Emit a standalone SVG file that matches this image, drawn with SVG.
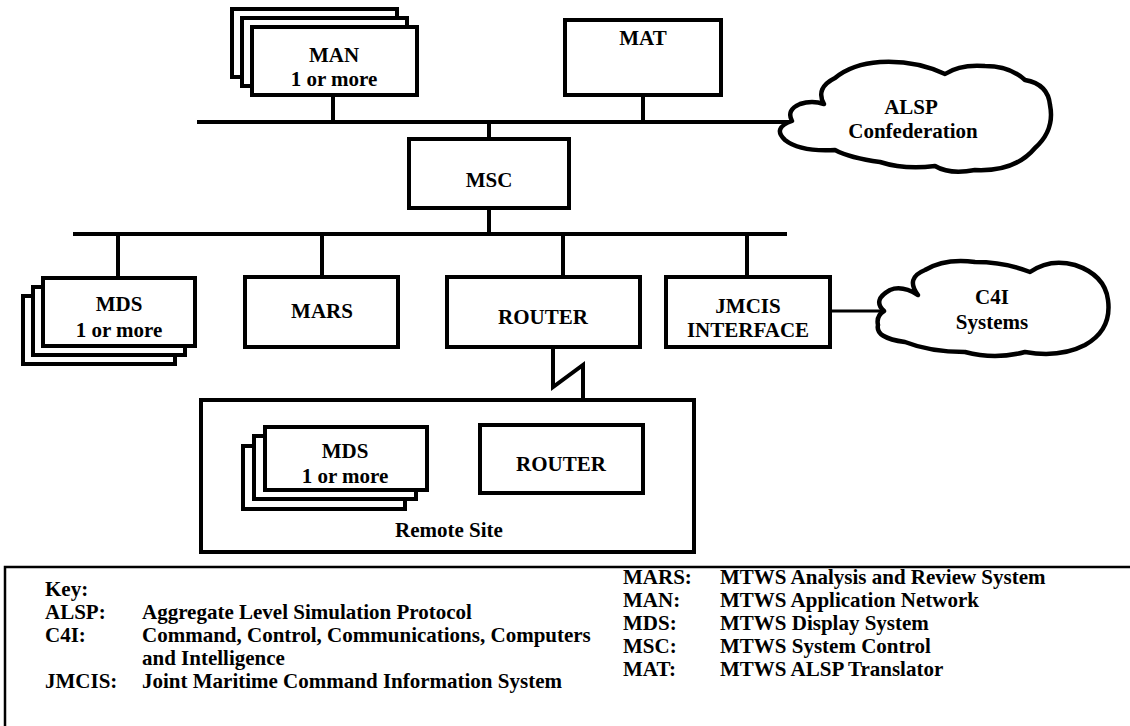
<svg xmlns="http://www.w3.org/2000/svg" width="1130" height="726" viewBox="0 0 1130 726">
<style>
.bx{fill:#fff;stroke:#000;stroke-width:4}
.ln{fill:none;stroke:#000;stroke-width:4}
.cl{fill:#fff;stroke:#000;stroke-width:4.5;stroke-linejoin:round}
.t{font-family:"Liberation Serif","Times New Roman",serif;font-weight:bold;font-size:21px;fill:#000}
.m{text-anchor:middle}
</style>
<rect width="1130" height="726" fill="#fff"/>
<g id="connectors">
<line class="ln" x1="197" y1="122" x2="795" y2="122"/>
<line class="ln" x1="333" y1="95" x2="333" y2="122"/>
<line class="ln" x1="643" y1="95" x2="643" y2="122"/>
<line class="ln" x1="489" y1="122" x2="489" y2="139"/>
<line class="ln" x1="489" y1="208" x2="489" y2="234"/>
<line class="ln" x1="73" y1="234" x2="787" y2="234"/>
<line class="ln" x1="118" y1="234" x2="118" y2="278"/>
<line class="ln" x1="322" y1="234" x2="322" y2="277"/>
<line class="ln" x1="563" y1="234" x2="563" y2="277"/>
<line class="ln" x1="747" y1="234" x2="747" y2="277"/>
<line class="ln" x1="830" y1="311" x2="884" y2="311" style="stroke-width:3"/>
<polyline class="ln" points="553,347 553,387 583,365 583,425"/>
<line class="ln" x1="457" y1="417" x2="457" y2="508"/>
<line class="ln" x1="457" y1="449" x2="480" y2="449"/>
<line class="ln" x1="427" y1="468" x2="457" y2="468"/>
</g>
<g id="man">
<rect class="bx" x="232" y="9" width="165" height="68"/>
<rect class="bx" x="242" y="18" width="165" height="68"/>
<rect class="bx" x="252" y="27" width="165" height="68"/>
<text class="t m" x="334" y="62">MAN</text>
<text class="t m" x="334" y="86">1 or more</text>
</g>
<g id="mat">
<rect class="bx" x="565" y="20" width="156" height="75"/>
<text class="t m" x="643" y="45">MAT</text>
</g>
<g id="alsp">
<path class="cl" d="M792,121 Q786,110 800,104 Q812,100 824,104 Q815,88 835,78 Q852,64 880,62 Q915,60 945,74 Q960,64 985,66 Q1010,66 1025,80 Q1048,84 1050,105 Q1055,130 1035,148 Q1015,172 975,170 Q950,175 935,166 Q905,170 880,162 Q850,158 835,150 Q800,152 785,140 Q772,128 792,121 Z"/>
<text class="t m" x="911" y="114">ALSP</text>
<text class="t m" x="913" y="138">Confederation</text>
</g>
<g id="msc">
<rect class="bx" x="409" y="139" width="160" height="69"/>
<text class="t m" x="489" y="187">MSC</text>
</g>
<g id="mds">
<rect class="bx" x="23" y="296" width="152" height="68"/>
<rect class="bx" x="33" y="287" width="152" height="68"/>
<rect class="bx" x="43" y="278" width="152" height="68"/>
<text class="t m" x="119" y="311">MDS</text>
<text class="t m" x="119" y="337">1 or more</text>
</g>
<g id="mars">
<rect class="bx" x="245" y="277" width="153" height="70"/>
<text class="t m" x="322" y="318">MARS</text>
</g>
<g id="router">
<rect class="bx" x="447" y="277" width="193" height="70"/>
<text class="t m" x="543" y="324">ROUTER</text>
</g>
<g id="jmcis">
<rect class="bx" x="666" y="277" width="164" height="70"/>
<text class="t m" x="748" y="313">JMCIS</text>
<text class="t m" x="748" y="337">INTERFACE</text>
</g>
<g id="c4i">
<path class="cl" d="M884,311 Q872,300 890,290 Q902,285 918,295 Q905,278 925,270 Q945,258 975,262 Q1005,262 1030,272 Q1050,258 1075,265 Q1105,275 1108,300 Q1112,330 1085,345 Q1060,358 1025,352 Q995,360 965,352 Q930,352 905,342 Q875,338 878,325 Q876,316 884,311 Z"/>
<text class="t m" x="992" y="304">C4I</text>
<text class="t m" x="992" y="329">Systems</text>
</g>
<g id="remote-site">
<rect class="bx" x="201" y="400" width="493" height="152"/>
<text class="t m" x="449" y="537">Remote Site</text>
</g>
<g id="remote-mds">
<rect class="bx" x="243" y="446" width="162" height="63"/>
<rect class="bx" x="254" y="436" width="162" height="63"/>
<rect class="bx" x="265" y="427" width="162" height="63"/>
<text class="t m" x="345" y="458">MDS</text>
<text class="t m" x="345" y="483">1 or more</text>
</g>
<g id="remote-router">
<rect class="bx" x="480" y="425" width="163" height="68"/>
<text class="t m" x="561" y="471">ROUTER</text>
</g>
<g id="key">
<path d="M5,726 V567 H1130" fill="none" stroke="#000" stroke-width="2.5"/>
<text class="t" x="45" y="596">Key:</text>
<text class="t" x="45" y="619">ALSP:</text>
<text class="t" x="142" y="619">Aggregate Level Simulation Protocol</text>
<text class="t" x="45" y="642">C4I:</text>
<text class="t" x="142" y="642">Command, Control, Communications, Computers</text>
<text class="t" x="142" y="665">and Intelligence</text>
<text class="t" x="45" y="688">JMCIS:</text>
<text class="t" x="142" y="688">Joint Maritime Command Information System</text>
<text class="t" x="623" y="584">MARS:</text>
<text class="t" x="720" y="584">MTWS Analysis and Review System</text>
<text class="t" x="623" y="607">MAN:</text>
<text class="t" x="720" y="607">MTWS Application Network</text>
<text class="t" x="623" y="630">MDS:</text>
<text class="t" x="720" y="630">MTWS Display System</text>
<text class="t" x="623" y="653">MSC:</text>
<text class="t" x="720" y="653">MTWS System Control</text>
<text class="t" x="623" y="676">MAT:</text>
<text class="t" x="720" y="676">MTWS ALSP Translator</text>
</g>
</svg>
